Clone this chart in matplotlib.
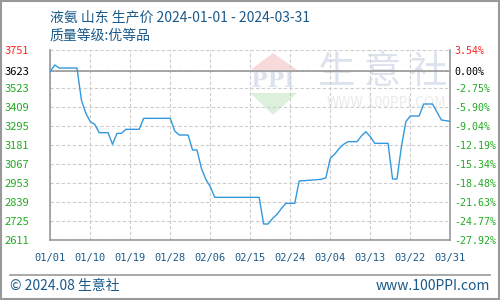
import numpy as np
import pandas as pd
import matplotlib
matplotlib.use('Agg')
import matplotlib.pyplot as plt
from matplotlib.patches import Polygon, Rectangle
from matplotlib.lines import Line2D

plt.rcParams['font.family'] = ['Noto Sans CJK SC', 'DejaVu Sans']

# 数据 (从图中读取的转折点)
dates = ['2024-01-01', '2024-01-02', '2024-01-03', '2024-01-07', '2024-01-08', '2024-01-09',
         '2024-01-10', '2024-01-11', '2024-01-12', '2024-01-14', '2024-01-15', '2024-01-16',
         '2024-01-17', '2024-01-18', '2024-01-21', '2024-01-22', '2024-01-28', '2024-01-29',
         '2024-01-30', '2024-02-01', '2024-02-02', '2024-02-03', '2024-02-04', '2024-02-05',
         '2024-02-06', '2024-02-07', '2024-02-17', '2024-02-18', '2024-02-19', '2024-02-20',
         '2024-02-21', '2024-02-22', '2024-02-23', '2024-02-25', '2024-02-26', '2024-03-02',
         '2024-03-03', '2024-03-04', '2024-03-05', '2024-03-06', '2024-03-07', '2024-03-08',
         '2024-03-10', '2024-03-11', '2024-03-12', '2024-03-13', '2024-03-14', '2024-03-17',
         '2024-03-18', '2024-03-19', '2024-03-20', '2024-03-21', '2024-03-22', '2024-03-24',
         '2024-03-25', '2024-03-27', '2024-03-29', '2024-03-31']
prices = [3623, 3661, 3643, 3643, 3451, 3371,
          3321, 3305, 3255, 3255, 3185, 3251,
          3251, 3275, 3275, 3341, 3341, 3265,
          3241, 3241, 3151, 3151, 3041, 2975,
          2931, 2867, 2867, 2707, 2707, 2740,
          2765, 2800, 2831, 2831, 2965, 2975,
          2985, 3101, 3127, 3160, 3185, 3201,
          3201, 3235, 3261, 3231, 3191, 3191,
          2977, 2977, 3171, 3321, 3355, 3355,
          3427, 3427, 3331, 3323]

base_price = 3623
y_ticks = [2611, 2725, 2839, 2953, 3067, 3181, 3295, 3409, 3523, 3623, 3751]
y_labels = ['2611', '2725', '2839', '2953', '3067', '3181', '3295', '3409', '3523', '3623', '3751']
pct_labels = ['-27.92%', '-24.77%', '-21.63%', '-18.48%', '-15.34%', '-12.19%', '-9.04%',
              '-5.90%', '-2.75%', '0.00%', '3.54%']
x_tick_dates = ['2024-01-01', '2024-01-10', '2024-01-19', '2024-01-28', '2024-02-06',
                '2024-02-15', '2024-02-24', '2024-03-04', '2024-03-13', '2024-03-22', '2024-03-31']

start = pd.Timestamp('2024-01-01')
days = [(pd.Timestamp(d) - start).days for d in dates]
x_ticks = [(pd.Timestamp(d) - start).days for d in x_tick_dates]
x_labels = [pd.Timestamp(d).strftime('%m/%d') for d in x_tick_dates]

def label_color(v):
    if v > base_price:
        return '#ff2222'
    if v == base_price:
        return '#000000'
    return '#22aa22'

fig = plt.figure(figsize=(5, 3), dpi=100)
ax = fig.add_axes([50.3 / 500, 60 / 300, 400 / 500, 190 / 300])

# 背景水印
wm = dict(transform=ax.transAxes, zorder=0)
ax.add_patch(Polygon([[0.557, 0.984], [0.50, 0.895], [0.617, 0.895]], closed=True,
                     facecolor='#f8dada', edgecolor='none', **wm))
ax.add_patch(Polygon([[0.557, 0.658], [0.50, 0.774], [0.617, 0.774]], closed=True,
                     facecolor='#dcf0dc', edgecolor='none', **wm))
ax.text(0.557, 0.835, 'PPI', ha='center', va='center', fontsize=16, color='#dde3ee',
        fontweight='bold', family='DejaVu Serif', **wm)
ax.text(0.83, 0.88, '生 意 社', ha='center', va='center', fontsize=27, color='#dde3ee', **wm)
ax.text(0.84, 0.72, 'WWW.100PPI.COM', ha='center', va='center', fontsize=10, color='#eaeaea', **wm)

ax.plot(days, prices, color='#3399dd', linewidth=1.0, zorder=3)
ax.axhline(base_price, color='#999999', linewidth=1.2, zorder=2)

ax.set_xlim(0, 90)
ax.set_ylim(2611, 3751)
ax.set_xticks(x_ticks)
ax.set_xticklabels(x_labels)
ax.set_yticks(y_ticks)
ax.set_yticklabels(y_labels)
ax.grid(True, color='#cccccc', linestyle=(0, (3, 2)), linewidth=0.8)
ax.tick_params(axis='x', length=0, pad=9, labelsize=7.5, labelcolor='#1a5a8a')
ax.tick_params(axis='y', length=0, pad=33, labelsize=8)
for lab, v in zip(ax.get_yticklabels(), y_ticks):
    lab.set_color(label_color(v))
    lab.set_horizontalalignment('left')
for lab in ax.get_xticklabels():
    lab.set_family('DejaVu Sans Mono')
ax.spines['top'].set_visible(False)
for s in ['left', 'bottom', 'right']:
    ax.spines[s].set_color('#999999')
    ax.spines[s].set_linewidth(1.2)

# 右侧百分比
ax2 = ax.twinx()
ax2.set_ylim(2611, 3751)
ax2.set_yticks(y_ticks)
ax2.set_yticklabels(pct_labels)
ax2.tick_params(axis='y', length=0, pad=3, labelsize=7.2)
for lab, v in zip(ax2.get_yticklabels(), y_ticks):
    lab.set_color(label_color(v))
    lab.set_family('DejaVu Sans Mono')
for s in ax2.spines.values():
    s.set_visible(False)

# 标题
fig.text(50 / 500, 1 - 17 / 300, '液氨 山东 生产价 2024-01-01 - 2024-03-31', fontsize=10,
         color='#1a5a8a', va='center', ha='left')
fig.text(50 / 500, 1 - 36 / 300, '质量等级:优等品', fontsize=10,
         color='#1a5a8a', va='center', ha='left')

# 底部
fig.add_artist(Line2D([10 / 500, 490 / 500], [1 - 275 / 300, 1 - 275 / 300],
                      color='#999999', linewidth=1.2))
fig.text(10 / 500, 1 - 286 / 300, '© 2024.08 生意社', fontsize=10, color='#1a5a8a',
         va='center', ha='left')
fig.text(490 / 500, 1 - 286 / 300, 'www.100PPI.com', fontsize=10, color='#1a5a8a',
         va='center', ha='right')
fig.add_artist(Rectangle((0.002, 0.003), 0.996, 0.994, transform=fig.transFigure,
                         fill=False, edgecolor='#999999', linewidth=1.5))

fig.savefig('out.png', dpi=100)
